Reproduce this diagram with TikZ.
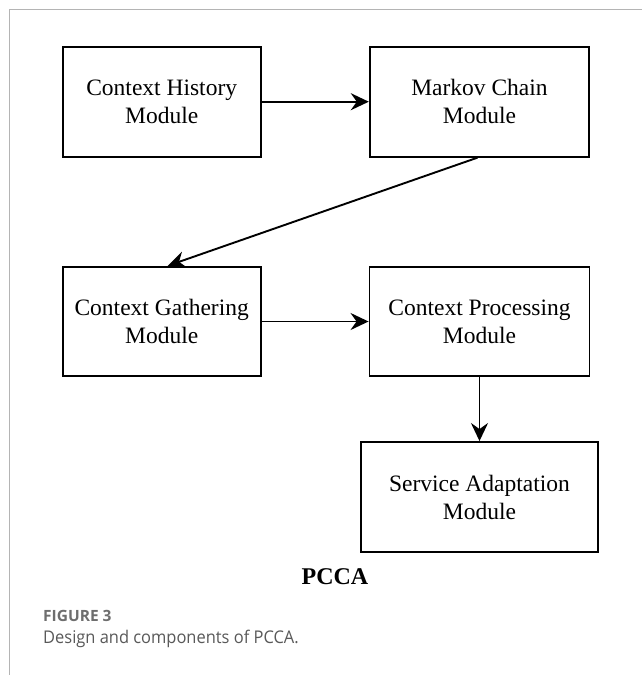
\documentclass[tikz,border=0pt]{standalone}
\usepackage{fontspec}
\setmainfont{Liberation Serif}
\newfontfamily\capfont[FakeStretch=0.94]{Open Sans}
\newfontfamily\figfont{Open Sans}
\usetikzlibrary{arrows.meta}
\definecolor{framegray}{HTML}{B4B4B4}
\definecolor{capgray}{HTML}{595959}
\definecolor{figgray}{HTML}{6E6E6E}
\tikzset{
  modbox/.style={draw=black, line width=1.9pt, inner sep=0pt, align=center,
    font=\fontsize{23.5}{28}\selectfont},
  conn/.style={line width=1.9pt, -{Stealth[length=18pt,width=17pt,inset=6pt]}},
}
\begin{document}
\begin{tikzpicture}[x=1pt,y=-1pt]
\useasboundingbox[fill=white] (0,0) rectangle (642,675);
\draw[framegray, line width=1pt] (9.3,675) -- (9.3,9.3) -- (642,9.3);

\node[modbox, minimum width=198pt, minimum height=110pt] (hist) at (161.7,101.7) {Context History\\Module};
\node[modbox, minimum width=219.5pt, minimum height=110pt] (markov) at (479.5,101.7) {Markov Chain\\Module};
\node[modbox, minimum width=198pt, minimum height=109.5pt] (gath) at (161.7,321.5) {Context Gathering\\Module};
\node[modbox, minimum width=220pt, minimum height=109.5pt] (proc) at (479.5,321.5) {Context Processing\\Module};
\node[modbox, minimum width=237pt, minimum height=110pt] (serv) at (479.5,497) {Service Adaptation\\Module};

\draw[conn] (hist.east) -- (markov.west);
\draw[conn] ([xshift=-2pt]markov.south) -- ([xshift=6pt]gath.north);
\draw[conn] (gath.east) -- (proc.west);
\draw[conn] (proc.south) -- (serv.north);

\node[font=\bfseries\fontsize{24}{28}\selectfont] (pcca) at (335,577) {PCCA};
\node[anchor=base west, inner sep=0pt, text=figgray, font=\figfont\bfseries\fontsize{15.5}{17}\selectfont] (fig) at (43,621) {FIGURE 3};
\node[anchor=base west, inner sep=0pt, text=capgray, font=\capfont\fontsize{17.5}{22}\selectfont] (cap) at (43,643) {Design and components of PCCA.};
\end{tikzpicture}
\end{document}
